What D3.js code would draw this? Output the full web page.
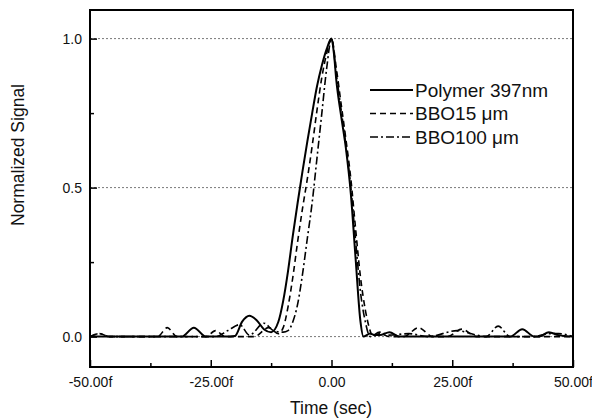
<!DOCTYPE html>
<html>
<head>
<meta charset="utf-8">
<script src="https://cdn.jsdelivr.net/npm/d3@7"></script>
<style>
  body { margin: 0; background: #fff; }
  svg { display: block; font-family: "Liberation Sans", Arial, sans-serif; }
  .tick text { font-size: 14px; fill: #111; }
  .axis-title { font-size: 17.5px; fill: #111; }
  .legend-label { font-size: 19px; fill: #111; }
</style>
</head>
<body>
<div id="chart"></div>
<script>
// series: time (fs) and normalized signal
const polymerT = [-50, -45, -40, -35, -31, -28.5, -26, -22, -20, -18.5, -17, -15.5, -14, -12.5, -11, -10, -9, -8, -7, -6, -5, -4, -3, -2, -1, 0, 0.5, 1, 2, 3, 4, 5, 6, 6.6, 8, 9, 10, 12, 14, 20, 30, 37, 39.5, 42, 43, 45, 47, 50];
const polymerV = [0, 0, 0, 0, 0, 0.03, 0, 0, 0.002, 0.05, 0.07, 0.055, 0.025, 0.015, 0.05, 0.12, 0.22, 0.34, 0.45, 0.555, 0.655, 0.75, 0.84, 0.91, 0.965, 1.0, 0.95, 0.86, 0.74, 0.63, 0.48, 0.26, 0.05, 0, 0.01, 0.005, 0.005, 0.015, 0, 0, 0, 0, 0.025, 0, 0, 0.015, 0.005, 0];

const bbo15T = [-50, -48, -46, -40, -36, -34, -32, -26, -24, -22, -16, -13, -11, -10, -9, -8, -7, -6, -5, -4, -3, -2, -1, 0, 1, 2, 3, 4, 5, 6, 7, 8, 8.5, 10, 12, 15, 18, 21, 24, 27, 30, 40, 50];
const bbo15V = [0, 0.01, 0, 0, 0, 0.03, 0, 0, 0.02, 0, 0, 0.03, 0.01, 0.03, 0.1, 0.2, 0.32, 0.43, 0.53, 0.64, 0.76, 0.87, 0.95, 1.0, 0.9, 0.78, 0.66, 0.53, 0.36, 0.2, 0.09, 0.02, 0, 0.01, 0, 0, 0.03, 0, 0, 0.025, 0, 0, 0];

const bbo100T = [-50, -48, -46, -30, -24, -21.5, -19, -17, -14, -12, -10, -9, -8, -7, -6, -5, -4, -3, -2, -1, 0, 1, 2, 3, 4, 5, 6, 7, 8, 10, 12, 16, 20, 26, 30, 32, 34.5, 37, 42, 45, 47, 50];
const bbo100V = [0, 0.01, 0, 0, 0, 0.02, 0.04, 0.005, 0.045, 0.02, 0.015, 0.02, 0.05, 0.11, 0.21, 0.33, 0.45, 0.6, 0.75, 0.9, 1.0, 0.88, 0.76, 0.64, 0.5, 0.32, 0.15, 0.05, 0, 0.015, 0.005, 0.01, 0, 0.02, 0.005, 0, 0.035, 0, 0, 0.01, 0.01, 0];

const seriesNames = ["Polymer 397nm", "BBO15 \u03bcm", "BBO100 \u03bcm"];
const xTickValues = [-50, -25, 0, 25, 50];
const xTickLabels = ["-50.00f", "-25.00f", "0.00", "25.00f", "50.00f"];
const xMinorTicks = [-37.5, -12.5, 12.5, 37.5];
const yTickValues = [0, 0.5, 1.0];
const yTickLabels = ["0.0", "0.5", "1.0"];
const yMinorTicks = [0.25, 0.75];

const width = 592, height = 418;
const margin = { top: 10, right: 19, bottom: 51, left: 90 };
const innerW = width - margin.left - margin.right;
const innerH = height - margin.top - margin.bottom;

const svg = d3.select("#chart").append("svg")
  .attr("width", width)
  .attr("height", height);

const g = svg.append("g")
  .attr("transform", `translate(${margin.left},${margin.top})`);

const x = d3.scaleLinear().domain([-50, 50]).range([0, innerW]);
const y = d3.scaleLinear().domain([-0.102, 1.096]).range([innerH, 0]);

// dotted grid lines
g.selectAll(".grid")
  .data(yTickValues)
  .join("line")
  .attr("x1", 0).attr("x2", innerW)
  .attr("y1", d => y(d)).attr("y2", d => y(d))
  .attr("stroke", "#555")
  .attr("stroke-width", 0.8)
  .attr("stroke-dasharray", "2,2");

// axes, ticks pointing inward
g.append("g")
  .attr("transform", `translate(0,${innerH})`)
  .call(d3.axisBottom(x).tickValues(xTickValues).tickSize(-7).tickPadding(10)
    .tickFormat((d, i) => xTickLabels[i]));
g.append("g")
  .attr("transform", `translate(0,${innerH})`)
  .call(d3.axisBottom(x).tickValues(xMinorTicks).tickSize(-4).tickFormat(""));

g.append("g")
  .call(d3.axisLeft(y).tickValues(yTickValues).tickSize(-7).tickPadding(8)
    .tickFormat((d, i) => yTickLabels[i]));
g.append("g")
  .call(d3.axisLeft(y).tickValues(yMinorTicks).tickSize(-4).tickFormat(""));

g.selectAll(".domain").remove();
g.selectAll(".tick line").attr("stroke", "#000").attr("stroke-width", 1.5);

// frame
g.append("rect")
  .attr("x", 0).attr("y", 0)
  .attr("width", innerW).attr("height", innerH)
  .attr("fill", "none")
  .attr("stroke", "#000")
  .attr("stroke-width", 2);

// curves
const series = [
  { t: polymerT, v: polymerV, dash: null, w: 2 },
  { t: bbo15T, v: bbo15V, dash: "6,4", w: 1.6 },
  { t: bbo100T, v: bbo100V, dash: "8,3,2,3", w: 1.6 }
];

const line = d3.line()
  .x(d => x(d[0]))
  .y(d => y(d[1]))
  .curve(d3.curveMonotoneX);

series.forEach(s => {
  g.append("path")
    .datum(s.t.map((t, i) => [t, s.v[i]]))
    .attr("fill", "none")
    .attr("stroke", "#000")
    .attr("stroke-width", s.w)
    .attr("stroke-dasharray", s.dash)
    .attr("d", line);
});

// legend
const legend = svg.append("g").attr("transform", "translate(370,90)");
series.forEach((s, i) => {
  legend.append("line")
    .attr("x1", 0).attr("x2", 43)
    .attr("y1", i * 23.5).attr("y2", i * 23.5)
    .attr("stroke", "#000")
    .attr("stroke-width", s.w)
    .attr("stroke-dasharray", s.dash);
  legend.append("text")
    .attr("class", "legend-label")
    .attr("x", 45)
    .attr("y", i * 23.5 + 6.5)
    .text(seriesNames[i]);
});

// axis titles
svg.append("text")
  .attr("class", "axis-title")
  .attr("x", 331)
  .attr("y", 414)
  .attr("text-anchor", "middle")
  .text("Time (sec)");

svg.append("text")
  .attr("class", "axis-title")
  .attr("transform", "translate(24,155) rotate(-90)")
  .attr("text-anchor", "middle")
  .text("Normalized Signal");
</script>
</body>
</html>
